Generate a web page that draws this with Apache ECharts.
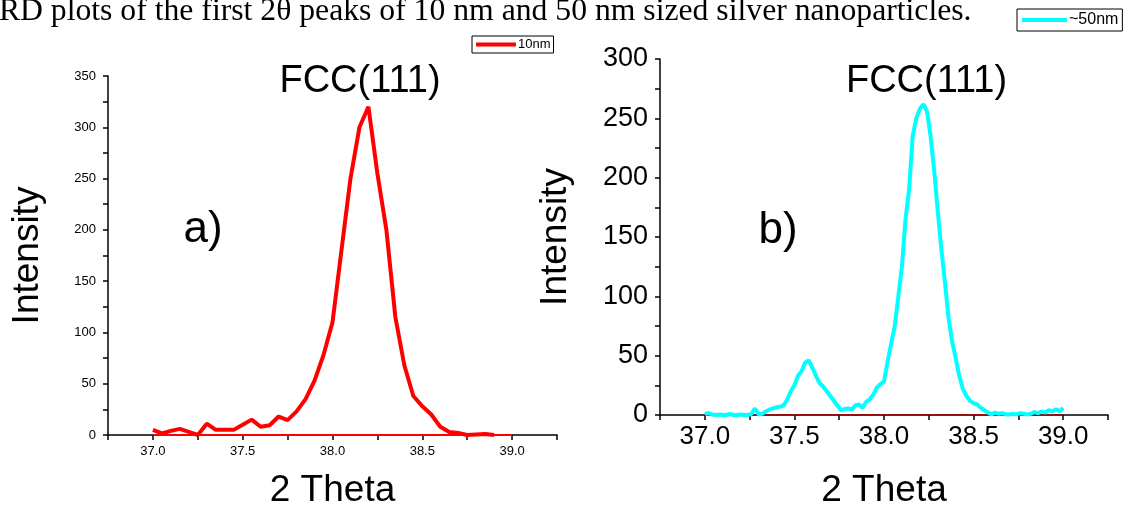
<!DOCTYPE html>
<html>
<head>
<meta charset="utf-8">
<script src="https://cdn.jsdelivr.net/npm/echarts@6/dist/echarts.min.js"></script>
<style>
html,body{margin:0;padding:0;background:#fff;}
#chart{width:1131px;height:514px;}
</style>
</head>
<body>
<div id="chart"></div>
<script>
// ---- Data ----
const theta10 = [37.00,37.05,37.10,37.15,37.20,37.25,37.30,37.35,37.40,37.45,37.50,37.55,37.60,37.65,37.70,37.75,37.80,37.85,37.90,37.95,38.00,38.05,38.10,38.15,38.20,38.25,38.30,38.35,38.40,38.45,38.50,38.55,38.60,38.65,38.70,38.75,38.80,38.85,38.90];
const int10 = [5,1.5,4,6,3,0,11,5,5,5,10,15,8,9.5,18,14.5,23,35,53,78,110,180,250,300,320,255,200,115,68,38,28,20,8,3,2,0,0.5,1,0];

const theta50 = [37.00,37.02,37.04,37.06,37.08,37.10,37.12,37.14,37.16,37.18,37.20,37.22,37.24,37.26,37.28,37.30,37.32,37.34,37.36,37.38,37.40,37.42,37.44,37.46,37.48,37.50,37.52,37.54,37.56,37.58,37.60,37.62,37.64,37.66,37.68,37.70,37.72,37.74,37.76,37.78,37.80,37.82,37.84,37.86,37.88,37.90,37.92,37.94,37.96,37.98,38.00,38.02,38.04,38.06,38.08,38.10,38.12,38.14,38.16,38.18,38.20,38.22,38.24,38.26,38.28,38.30,38.32,38.34,38.36,38.38,38.40,38.42,38.44,38.46,38.48,38.50,38.52,38.54,38.56,38.58,38.60,38.62,38.64,38.66,38.68,38.70,38.72,38.74,38.76,38.78,38.80,38.82,38.84,38.86,38.88,38.90,38.92,38.94,38.96,38.98,39.00];
const int50 = [1,1.5,0.5,0,0.5,0,0,1,0,0,0.5,0,0,1,5.5,0.5,1,3,4.5,5.5,6.5,7,8,13,20,25,33,37,44,46,40,33,27,24,20,16,12,8,4,5,5.5,4.5,8,9,6,11,13,17,23,26,28,45,60,75,100,125,165,190,235,250,258,262,256,235,206,172,140,112,82,62,48,33,22,16,12,10,9,6,4,2,0.5,2,1,1.5,0.5,0.5,1,0.5,1.5,1,0.5,1,2.5,1.5,3,2,4,3,5,3,6];

const baseTheta = [37.0, 39.0];
const baseInt = [0, 0];

const xTickLabels = ['37.0','37.5','38.0','38.5','39.0'];
const yLabelsA = [0,50,100,150,200,250,300,350];
const yLabelsB = [0,50,100,150,200,250,300];

const seriesNames = ['10nm', '~50nm'];
const panelLabels = ['a)', 'b)'];
const peakLabel = 'FCC(111)';
const titleText = 'XRD plots of the first 2\u03b8 peaks of 10 nm and 50 nm sized silver nanoparticles.';

// ---- Build ----
const pairs = (xs, ys) => xs.map((x, i) => [x, ys[i]]);
const FONT = '"Liberation Sans", Arial, sans-serif';

function xAxisCfg(gridIndex, labelSize, nameGap) {
  return {
    type: 'value', gridIndex, min: 36.75, max: 39.25, interval: 0.25,
    name: '2 Theta', nameLocation: 'middle', nameGap,
    nameTextStyle: {fontFamily: FONT, fontSize: 37, color: '#000'},
    axisLine: {show: true, onZero: false, lineStyle: {color: '#000', width: 1.5}},
    axisTick: {show: true, inside: false, length: 5, lineStyle: {color: '#000', width: 1.5}},
    splitLine: {show: false},
    axisLabel: {
      fontFamily: FONT, fontSize: labelSize, color: '#000', margin: labelSize > 20 ? 9 : 10,
      showMinLabel: true, showMaxLabel: true,
      formatter: v => {
        const s = v.toFixed(1);
        return (Math.abs(v * 2 - Math.round(v * 2)) < 1e-6 && xTickLabels.includes(s)) ? s : '';
      }
    }
  };
}
function yAxisCfg(gridIndex, max, labelSize, labels, nameGap, margin) {
  return {
    type: 'value', gridIndex, min: 0, max, interval: 25,
    name: 'Intensity', nameLocation: 'middle', nameGap,
    nameTextStyle: {fontFamily: FONT, fontSize: 37, color: '#000'},
    axisLine: {show: true, lineStyle: {color: '#000', width: 1.5}},
    axisTick: {show: true, inside: false, length: 5, lineStyle: {color: '#000', width: 1.5}},
    splitLine: {show: false},
    axisLabel: {
      fontFamily: FONT, fontSize: labelSize, color: '#000', margin,
      showMinLabel: true, showMaxLabel: true,
      formatter: v => labels.includes(v) ? String(v) : ''
    }
  };
}

const chart = echarts.init(document.getElementById('chart'), null, {renderer: 'canvas'});
chart.setOption({
  animation: false,
  backgroundColor: '#fff',
  grid: [
    {left: 108, right: 574, top: 76, bottom: 74, containLabel: false},
    {left: 660, right: 23, top: 59, bottom: 91.3, containLabel: false}
  ],
  xAxis: [xAxisCfg(0, 13, 37), xAxisCfg(1, 26, 57)],
  yAxis: [yAxisCfg(0, 350, 13, yLabelsA, 62, 12), yAxisCfg(1, 300, 27, yLabelsB, 86, 12)],
  legend: [
    {
      data: [seriesNames[0]], left: 472, top: 36, orient: 'horizontal',
      icon: 'rect', itemWidth: 40, itemHeight: 4, itemGap: 0,
      borderColor: '#000', borderWidth: 1, borderRadius: 0, padding: [2, 3, 2, 4],
      textStyle: {fontFamily: FONT, fontSize: 13, color: '#000', padding: [0, 0, 0, -3]}
    },
    {
      data: [seriesNames[1]], left: 1017, top: 9, orient: 'horizontal',
      icon: 'rect', itemWidth: 45, itemHeight: 4, itemGap: 0,
      borderColor: '#000', borderWidth: 1, borderRadius: 0, padding: [3, 4, 3, 5],
      textStyle: {fontFamily: FONT, fontSize: 16, color: '#000', padding: [0, 0, 0, -3]}
    }
  ],
  series: [
    {
      name: 'base10', type: 'line', xAxisIndex: 0, yAxisIndex: 0,
      data: pairs(baseTheta, baseInt), showSymbol: false, silent: true,
      lineStyle: {color: '#ff0000', width: 2}, itemStyle: {color: '#ff0000'}, z: 2
    },
    {
      name: seriesNames[0], type: 'line', xAxisIndex: 0, yAxisIndex: 0,
      data: pairs(theta10, int10), showSymbol: false,
      lineStyle: {color: '#ff0000', width: 4}, itemStyle: {color: '#ff0000'}, z: 3
    },
    {
      name: 'base50', type: 'line', xAxisIndex: 1, yAxisIndex: 1,
      data: pairs(baseTheta, baseInt), showSymbol: false, silent: true,
      lineStyle: {color: '#b00000', width: 1.5}, itemStyle: {color: '#b00000'}, z: 2
    },
    {
      name: seriesNames[1], type: 'line', xAxisIndex: 1, yAxisIndex: 1,
      data: pairs(theta50, int50), showSymbol: false,
      lineStyle: {color: '#00ffff', width: 4}, itemStyle: {color: '#00ffff'}, z: 3
    }
  ],
  graphic: [
    {type: 'text', x: -24, y: 12, style: {text: titleText, font: '31.7px "Liberation Serif", "Times New Roman", serif', fill: '#000', verticalAlign: 'middle', align: 'left'}},
    {type: 'text', x: 360, y: 82, style: {text: peakLabel, font: '38px ' + FONT, fill: '#000', align: 'center', verticalAlign: 'middle'}},
    {type: 'text', x: 926.5, y: 82, style: {text: peakLabel, font: '38px ' + FONT, fill: '#000', align: 'center', verticalAlign: 'middle'}},
    {type: 'text', x: 203, y: 230, style: {text: panelLabels[0], font: '44px ' + FONT, fill: '#000', align: 'center', verticalAlign: 'middle'}},
    {type: 'text', x: 778, y: 231, style: {text: panelLabels[1], font: '44px ' + FONT, fill: '#000', align: 'center', verticalAlign: 'middle'}}
  ]
});
</script>
</body>
</html>
